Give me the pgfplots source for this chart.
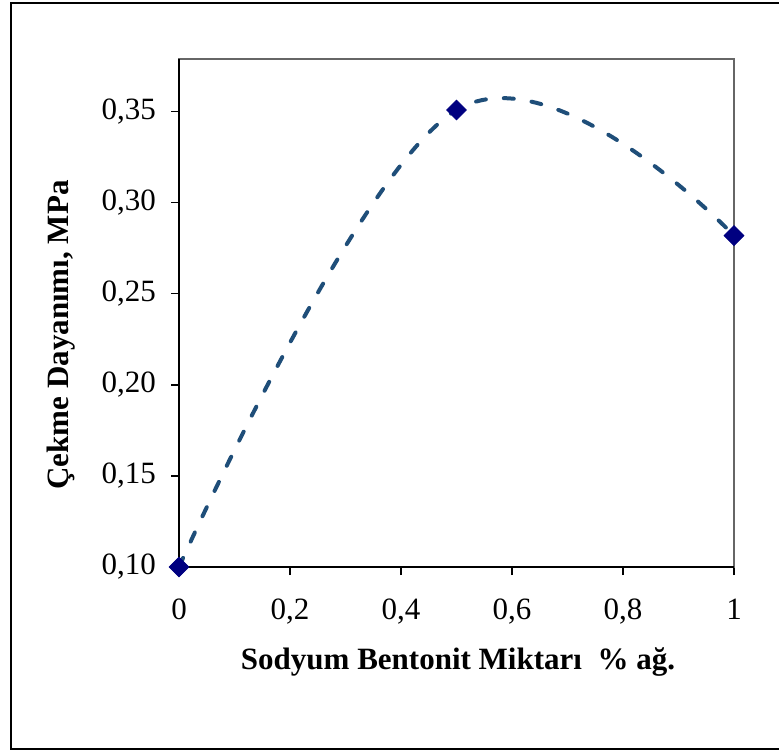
\documentclass[border=0pt]{standalone}
\usepackage{pgfplots}
\pgfplotsset{compat=1.18}
\usepackage{fontspec}
\setmainfont{Liberation Serif}
\definecolor{linecol}{RGB}{31,78,121}
\definecolor{markcol}{RGB}{0,0,128}
\begin{document}
\begin{tikzpicture}
\useasboundingbox (0pt,0pt) rectangle (389.5pt,-375.5pt);
\draw[line width=1pt] (391pt,-1.5pt) -- (5.5pt,-1.5pt) -- (5.5pt,-374.5pt) -- (391pt,-374.5pt);
\begin{axis}[
  at={(89.5pt,-283.5pt)}, anchor=south west,
  scale only axis, width=277.5pt, height=254pt,
  xmin=0, xmax=1, ymin=0.10, ymax=0.379,
  xtick={0,0.2,0.4,0.6,0.8,1},
  ytick={0.10,0.15,0.20,0.25,0.30,0.35},
  /pgf/number format/assume math mode=true,
  yticklabel style={/pgf/number format/use comma, /pgf/number format/fixed, /pgf/number format/fixed zerofill, /pgf/number format/precision=2, xshift=-4pt},
  xticklabel style={/pgf/number format/use comma, /pgf/number format/fixed, /pgf/number format/precision=1, yshift=-8.5pt},
  tick label style={font=\fontsize{15.5}{18}\selectfont},
  axis line style={draw=gray!80!black, line width=0.6pt},
  tick style={black, line width=0.6pt},
  tick align=outside,
  major tick length=4pt,
  xtick pos=bottom, ytick pos=left,
  clip=false,
]
\draw[black, line width=0.8pt] (axis cs:0,0.379) -- (axis cs:0,0.10) -- (axis cs:1,0.10);
\addplot[linecol, line width=2pt, dash pattern=on 5pt off 9pt, line cap=round, smooth, tension=0.65]
  coordinates {(0,0.100) (0.5,0.351) (1,0.282)};
\addplot[only marks, mark=square*, mark size=3.5pt, mark options={rotate=45, fill=markcol, draw=markcol}]
  coordinates {(0,0.100) (0.5,0.351) (1,0.282)};
\end{axis}
\node[rotate=90, font=\fontsize{15.5}{18}\selectfont\bfseries] at (30.5pt,-167.5pt) {Çekme Dayanımı, MPa};
\node[font=\fontsize{15.5}{18}\selectfont\bfseries] at (229pt,-331pt) {Sodyum Bentonit Miktarı\ \ \% ağ.};
\end{tikzpicture}
\end{document}
